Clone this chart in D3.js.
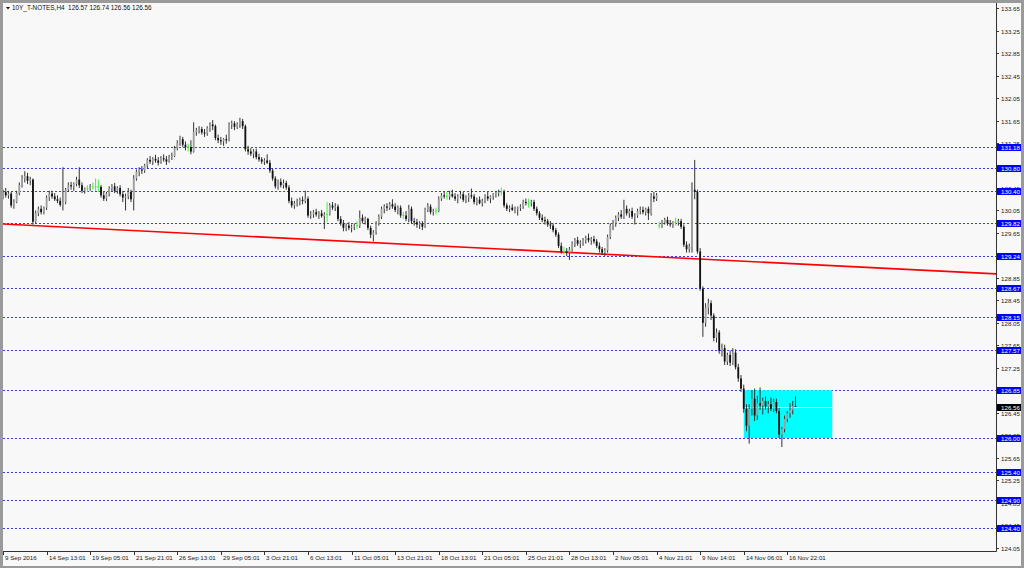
<!DOCTYPE html>
<html><head><meta charset="utf-8">
<script src="https://cdn.jsdelivr.net/npm/d3@7"></script>
<style>html,body{margin:0;padding:0;background:#fff;overflow:hidden}</style>
</head><body><svg id="c" width="1024" height="568"></svg>
<script>
const symbol = "10Y_T-NOTES,H4";
const lastQuote = ["126.57", "126.74", "126.56", "126.56"];

const openP = [
130.30,130.38,130.32,130.35,130.14,130.20,130.36,130.50,130.62,130.66,
130.58,130.60,129.85,130.00,130.08,130.02,130.10,130.28,130.35,130.30,
130.25,130.22,130.15,130.20,130.42,130.50,130.48,130.52,130.60,130.50,
130.40,130.44,130.44,130.47,130.47,130.47,130.47,130.32,130.26,130.35,
130.44,130.48,130.40,130.45,130.34,130.28,130.30,130.38,130.25,130.62,
130.74,130.78,130.76,130.85,130.95,130.92,130.97,130.94,130.90,130.98,
130.96,130.92,131.00,131.02,131.16,131.25,131.32,131.22,131.18,131.18,
131.10,131.45,131.48,131.50,131.44,131.42,131.52,131.58,131.55,131.34,
131.30,131.28,131.32,131.30,131.58,131.60,131.54,131.58,131.64,131.55,
131.14,131.10,131.06,131.10,131.00,130.96,130.92,130.94,130.90,130.76,
130.62,130.48,130.56,130.50,130.54,130.46,130.22,130.14,130.18,130.20,
130.24,130.22,130.26,129.96,129.98,130.02,129.98,130.00,129.95,129.98,
129.98,130.14,130.10,130.12,129.90,129.82,129.74,129.78,129.74,129.76,
129.78,129.78,129.92,129.86,129.90,129.74,129.62,129.66,129.82,129.94,
130.08,130.12,130.10,130.16,130.12,130.06,130.10,129.96,129.96,129.90,
130.08,129.86,129.84,129.80,129.82,129.76,130.06,130.12,130.02,130.04,
130.04,130.26,130.32,130.30,130.30,130.34,130.30,130.26,130.30,130.34,
130.24,130.28,130.32,130.30,130.20,130.24,130.18,130.22,130.30,130.26,
130.30,130.34,130.36,130.38,130.38,130.14,130.08,130.10,130.06,130.08,
130.10,130.12,130.20,130.18,130.18,130.20,130.08,130.00,129.92,129.88,
129.86,129.80,129.78,129.70,129.62,129.42,129.32,129.32,129.30,129.36,
129.46,129.52,129.46,129.48,129.52,129.56,129.52,129.54,129.50,129.42,
129.36,129.30,129.34,129.58,129.78,129.82,129.92,129.98,129.94,130.08,
130.00,130.04,129.94,129.96,130.04,130.06,130.02,130.08,130.00,130.30,
130.26,129.78,129.78,129.84,129.88,129.82,129.80,129.84,129.84,129.86,
129.76,129.44,129.36,129.40,130.42,130.38,129.32,128.66,128.05,128.32,
128.40,128.18,127.78,127.88,127.55,127.60,127.36,127.48,127.34,127.52,
127.26,127.06,126.88,126.52,126.22,126.52,126.70,126.40,126.62,126.58,
126.66,126.56,126.60,126.52,126.64,126.48,126.06,126.16,126.34,126.44,
126.50,126.57];
const highP = [
130.42,130.45,130.40,130.38,130.25,130.40,130.55,130.68,130.75,130.72,
130.65,130.62,130.05,130.12,130.14,130.12,130.32,130.40,130.40,130.36,
130.32,130.28,130.82,130.45,130.55,130.56,130.55,130.65,130.82,130.55,
130.46,130.50,130.52,130.55,130.62,130.60,130.50,130.38,130.38,130.48,
130.52,130.54,130.48,130.50,130.40,130.35,130.45,130.42,130.68,130.78,
130.82,130.84,130.88,130.98,131.02,131.00,131.04,131.00,131.02,131.05,
131.02,131.04,131.08,131.20,131.30,131.38,131.36,131.28,131.24,131.30,
131.62,131.52,131.55,131.54,131.50,131.55,131.62,131.66,131.58,131.40,
131.36,131.34,131.40,131.62,131.65,131.64,131.62,131.70,131.68,131.58,
131.20,131.16,131.14,131.15,131.06,131.00,130.98,131.05,130.95,130.80,
130.66,130.60,130.62,130.60,130.58,130.50,130.28,130.22,130.26,130.28,
130.30,130.40,130.30,130.04,130.06,130.08,130.04,130.06,130.02,130.20,
130.18,130.20,130.18,130.16,129.95,129.88,129.82,129.84,129.80,129.82,
129.86,130.05,129.98,129.94,129.92,129.78,129.70,129.86,129.98,130.12,
130.16,130.18,130.20,130.25,130.18,130.14,130.14,130.02,130.04,130.15,
130.12,129.92,129.90,129.86,129.86,130.10,130.18,130.16,130.08,130.10,
130.30,130.36,130.38,130.38,130.40,130.42,130.36,130.34,130.40,130.38,
130.32,130.36,130.44,130.34,130.28,130.30,130.26,130.34,130.38,130.32,
130.36,130.40,130.42,130.46,130.42,130.18,130.14,130.16,130.12,130.12,
130.16,130.24,130.26,130.26,130.24,130.24,130.12,130.04,129.98,129.94,
129.90,129.86,129.82,129.74,129.66,129.48,129.40,129.38,129.40,129.50,
129.56,129.58,129.52,129.56,129.60,129.64,129.58,129.60,129.54,129.48,
129.40,129.38,129.62,129.82,129.88,129.96,130.02,130.06,130.24,130.14,
130.08,130.10,130.00,130.08,130.12,130.12,130.10,130.12,130.36,130.38,
130.36,129.85,129.88,129.92,129.94,129.88,129.86,129.92,129.90,129.90,
129.80,129.50,129.46,130.55,130.95,130.42,129.38,128.70,128.40,128.48,
128.45,128.22,127.95,127.92,127.68,127.66,127.52,127.56,127.60,127.58,
127.32,127.12,126.95,126.60,126.60,126.85,126.88,126.75,126.90,126.72,
126.74,126.66,126.72,126.70,126.70,126.54,126.20,126.40,126.48,126.62,
126.66,126.74];
const lowP = [
130.25,130.28,130.26,130.10,130.08,130.18,130.32,130.46,130.55,130.52,
130.50,129.80,129.82,129.95,129.98,129.98,130.06,130.22,130.26,130.22,
130.18,130.12,130.05,130.16,130.38,130.42,130.40,130.48,130.45,130.36,
130.35,130.38,130.40,130.42,130.40,130.38,130.28,130.22,130.22,130.30,
130.38,130.36,130.35,130.30,130.20,130.05,130.25,130.20,130.05,130.58,
130.66,130.70,130.72,130.80,130.88,130.86,130.90,130.85,130.88,130.92,
130.86,130.90,130.95,131.00,131.12,131.20,131.18,131.12,131.10,131.05,
131.08,131.38,131.42,131.40,131.36,131.38,131.45,131.48,131.30,131.25,
131.22,131.20,131.24,131.28,131.50,131.48,131.50,131.52,131.50,131.10,
131.04,131.02,130.98,130.96,130.92,130.88,130.86,130.88,130.72,130.58,
130.44,130.42,130.46,130.44,130.42,130.18,130.10,130.08,130.12,130.14,
130.16,130.18,129.92,129.90,129.92,129.94,129.90,129.92,129.72,129.84,
129.96,130.06,130.04,129.86,129.78,129.68,129.68,129.70,129.66,129.70,
129.72,129.74,129.82,129.80,129.70,129.56,129.50,129.62,129.78,129.90,
130.00,130.04,130.06,130.08,130.02,129.98,129.92,129.90,129.86,129.84,
129.82,129.78,129.74,129.72,129.70,129.74,130.02,129.98,129.96,129.98,
130.02,130.22,130.26,130.24,130.24,130.28,130.22,130.18,130.26,130.20,
130.18,130.20,130.26,130.16,130.14,130.16,130.12,130.18,130.22,130.18,
130.24,130.28,130.30,130.32,130.10,130.04,130.02,130.04,130.00,129.96,
130.04,130.08,130.14,130.10,130.12,130.04,129.96,129.88,129.84,129.80,
129.76,129.72,129.66,129.58,129.38,129.28,129.26,129.24,129.17,129.32,
129.40,129.42,129.38,129.42,129.46,129.48,129.44,129.46,129.38,129.30,
129.26,129.24,129.30,129.54,129.70,129.76,129.86,129.90,129.90,129.96,
129.92,129.90,129.80,129.92,129.98,129.98,129.96,129.88,129.96,130.20,
130.22,129.73,129.74,129.80,129.78,129.76,129.74,129.78,129.78,129.72,
129.40,129.30,129.30,129.30,130.25,129.28,128.62,127.80,127.98,128.20,
128.10,127.72,127.70,127.50,127.45,127.30,127.30,127.28,127.30,127.22,
127.00,126.82,126.45,126.12,125.90,126.40,126.30,126.32,126.50,126.42,
126.50,126.44,126.48,126.46,126.44,126.00,125.84,126.10,126.28,126.36,
126.42,126.56];
const closeP = [
130.38,130.32,130.35,130.14,130.20,130.36,130.50,130.62,130.66,130.58,
130.60,129.85,130.00,130.08,130.02,130.10,130.28,130.35,130.30,130.25,
130.22,130.15,130.20,130.42,130.50,130.48,130.52,130.60,130.50,130.40,
130.44,130.44,130.47,130.47,130.47,130.47,130.32,130.26,130.35,130.44,
130.48,130.40,130.45,130.34,130.28,130.30,130.38,130.25,130.62,130.74,
130.78,130.76,130.85,130.95,130.92,130.97,130.94,130.90,130.98,130.96,
130.92,131.00,131.02,131.16,131.25,131.32,131.22,131.18,131.18,131.10,
131.45,131.48,131.50,131.44,131.42,131.52,131.58,131.55,131.34,131.30,
131.28,131.32,131.30,131.58,131.60,131.54,131.58,131.64,131.55,131.14,
131.10,131.06,131.10,131.00,130.96,130.92,130.94,130.90,130.76,130.62,
130.48,130.56,130.50,130.54,130.46,130.22,130.14,130.18,130.20,130.24,
130.22,130.26,129.96,129.98,130.02,129.98,130.00,129.95,129.98,129.98,
130.14,130.10,130.12,129.90,129.82,129.74,129.78,129.74,129.76,129.78,
129.78,129.92,129.86,129.90,129.74,129.62,129.66,129.82,129.94,130.08,
130.12,130.10,130.16,130.12,130.06,130.10,129.96,129.96,129.90,130.08,
129.86,129.84,129.80,129.82,129.76,130.06,130.12,130.02,130.04,130.04,
130.26,130.32,130.30,130.30,130.34,130.30,130.26,130.30,130.34,130.24,
130.28,130.32,130.30,130.20,130.24,130.18,130.22,130.30,130.26,130.30,
130.34,130.36,130.38,130.38,130.14,130.08,130.10,130.06,130.08,130.10,
130.12,130.20,130.18,130.18,130.20,130.08,130.00,129.92,129.88,129.86,
129.80,129.78,129.70,129.62,129.42,129.32,129.32,129.30,129.36,129.46,
129.52,129.46,129.48,129.52,129.56,129.52,129.54,129.50,129.42,129.36,
129.30,129.34,129.58,129.78,129.82,129.92,129.98,129.94,130.08,130.00,
130.04,129.94,129.96,130.04,130.06,130.02,130.08,130.00,130.30,130.26,
130.32,129.78,129.84,129.88,129.82,129.80,129.84,129.84,129.86,129.76,
129.44,129.36,129.40,130.42,130.38,129.32,128.66,128.05,128.32,128.40,
128.18,127.78,127.88,127.55,127.60,127.36,127.48,127.34,127.52,127.26,
127.06,126.88,126.52,126.22,126.52,126.70,126.40,126.62,126.58,126.66,
126.56,126.60,126.52,126.64,126.48,126.06,126.16,126.34,126.44,126.50,
126.57,126.56];

const timeLabels = ["9 Sep 2016","14 Sep 13:01","19 Sep 05:01","21 Sep 21:01","26 Sep 13:01",
  "29 Sep 05:01","3 Oct 21:01","6 Oct 13:01","11 Oct 05:01","13 Oct 21:01","18 Oct 13:01",
  "21 Oct 05:01","25 Oct 21:01","28 Oct 13:01","2 Nov 05:01","4 Nov 21:01","9 Nov 14:01",
  "14 Nov 06:01","16 Nov 22:01"];
const barsPerLabel = 16;

const priceTicks = [124.05,124.45,124.85,125.25,125.65,126.05,126.45,126.85,127.25,127.65,
  128.05,128.45,128.85,129.25,129.65,130.05,130.45,130.85,131.25,131.65,132.05,132.45,
  132.85,133.25,133.65];
const levels = [131.18,130.80,130.40,129.82,129.24,128.67,128.15,127.57,126.85,126.00,125.40,124.90,124.40];
const trendBars = [0, 365];
const trendPrices = [129.81, 128.92];
const zoneBars = [272, 304.5];
const zonePrices = [126.00, 126.85];
const bidPrice = 126.56;

// layout
const L = 3, R = 996, T = 3, B = 551;
const svg = d3.select("#c");
const x = d3.scaleLinear().domain([0, 365]).range([3, 997]);
const y = d3.scaleLinear().domain([126.00, 131.18]).range([438, 147]);

svg.append("rect").attr("x",0).attr("y",0).attr("width",1024).attr("height",568).attr("fill","#9a9a9a");
svg.append("rect").attr("x",3).attr("y",3).attr("width",1018).attr("height",563).attr("fill","#f8f8f8");

const clip = svg.append("defs").append("clipPath").attr("id","pc");
clip.append("rect").attr("x",L).attr("y",T).attr("width",R-L).attr("height",B-T);
const plot = svg.append("g").attr("clip-path","url(#pc)");

// level lines
plot.selectAll("line.lvl").data(levels).join("line").attr("class","lvl")
  .attr("x1",L).attr("x2",R).attr("y1",d=>Math.round(y(d))+0.5).attr("y2",d=>Math.round(y(d))+0.5)
  .attr("stroke","#3a3aff").attr("stroke-width",1).attr("stroke-dasharray","2,2");

// zone
plot.append("rect").attr("x",x(zoneBars[0])).attr("width",x(zoneBars[1])-x(zoneBars[0]))
  .attr("y",y(zonePrices[1])).attr("height",y(zonePrices[0])-y(zonePrices[1])).attr("fill","#00ffff");
plot.append("line").attr("x1",x(zoneBars[0])).attr("x2",x(zoneBars[1]))
  .attr("y1",Math.round(y(bidPrice))+0.5).attr("y2",Math.round(y(bidPrice))+0.5)
  .attr("stroke","#e8ffff").attr("stroke-width",1);

// trend line
plot.append("line").attr("x1",x(trendBars[0])).attr("y1",y(trendPrices[0]))
  .attr("x2",x(trendBars[1])).attr("y2",y(trendPrices[1]))
  .attr("stroke","#ff0000").attr("stroke-width",1.6);

// candles
const idx = d3.range(closeP.length);
const bw = 1.8;
const g = plot.append("g");
g.selectAll("line.w").data(idx).join("line").attr("class","w")
  .attr("x1",i=>x(i)).attr("x2",i=>x(i)).attr("y1",i=>y(highP[i])).attr("y2",i=>y(lowP[i]))
  .attr("stroke",i=>openP[i]===closeP[i] ? "#44ee44" : "#333").attr("stroke-width",1);
g.selectAll("rect.b").data(idx.filter(i=>openP[i]!==closeP[i])).join("rect").attr("class","b")
  .attr("x",i=>x(i)-bw/2).attr("width",bw)
  .attr("y",i=>y(Math.max(openP[i],closeP[i])))
  .attr("height",i=>Math.max(1,Math.abs(y(openP[i])-y(closeP[i]))))
  .attr("fill",i=>closeP[i]>openP[i] ? "#a0a0a0" : "#111");
g.selectAll("line.d").data(idx.filter(i=>openP[i]===closeP[i])).join("line").attr("class","d")
  .attr("x1",i=>x(i)-1).attr("x2",i=>x(i)+1).attr("y1",i=>y(closeP[i])).attr("y2",i=>y(closeP[i]))
  .attr("stroke","#44ee44").attr("stroke-width",1);

// axes frame
svg.append("line").attr("x1",R+0.5).attr("x2",R+0.5).attr("y1",T).attr("y2",B+0.5).attr("stroke","#333");
svg.append("line").attr("x1",L).attr("x2",R+0.5).attr("y1",B+0.5).attr("y2",B+0.5).attr("stroke","#333");

const font = "Liberation Sans, Arial, sans-serif";
const fs = 6.2;
// price ticks
const pt = svg.append("g");
priceTicks.forEach(p=>{
  const yy = Math.round(y(p))+0.5;
  pt.append("line").attr("x1",R).attr("x2",R+3).attr("y1",yy).attr("y2",yy).attr("stroke","#333");
  pt.append("text").attr("x",R+5).attr("y",yy+2.2).text(p.toFixed(2))
    .attr("font-family",font).attr("font-size",fs).attr("fill","#222");
});
// level labels
levels.forEach(p=>{
  const yy = Math.round(y(p))+0.5;
  pt.append("rect").attr("x",R+1).attr("y",yy-3.5).attr("width",24).attr("height",7).attr("fill","#0000ff");
  pt.append("text").attr("x",R+5).attr("y",yy+2.2).text(p.toFixed(2))
    .attr("font-family",font).attr("font-size",fs).attr("fill","#fff");
});
{
  const yy = Math.round(y(bidPrice))+0.5;
  pt.append("rect").attr("x",R+1).attr("y",yy-3.5).attr("width",24).attr("height",7).attr("fill","#000");
  pt.append("text").attr("x",R+5).attr("y",yy+2.2).text(bidPrice.toFixed(2))
    .attr("font-family",font).attr("font-size",fs).attr("fill","#fff");
}
// time labels
const tl = svg.append("g");
timeLabels.forEach((t,k)=>{
  const xx = Math.round(x(k*barsPerLabel))+0.5;
  tl.append("line").attr("x1",xx).attr("x2",xx).attr("y1",B).attr("y2",B+4).attr("stroke","#333");
  tl.append("text").attr("x",xx+1.5).attr("y",B+9).text(t)
    .attr("font-family",font).attr("font-size",fs).attr("fill","#222");
});
// title
svg.append("path").attr("d","M6,7 L10,7 L8,9.5 Z").attr("fill","#111");
svg.append("text").attr("x",12).attr("y",10).text(symbol+"  "+lastQuote.join(" "))
  .attr("font-family",font).attr("font-size",6.4).attr("fill","#111").style("white-space","pre");
</script></body></html>
